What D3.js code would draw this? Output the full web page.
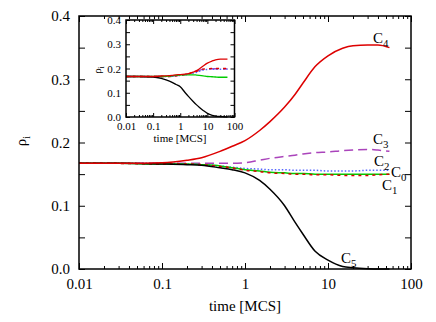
<!DOCTYPE html>
<html>
<head>
<meta charset="utf-8">
<script src="https://cdn.jsdelivr.net/npm/d3@7"></script>
<style>
  body { margin: 0; background: #fff; }
  svg, svg text { font-family: "Liberation Serif", "Times New Roman", serif; }
</style>
</head>
<body>
<div id="chart"></div>
<script>
// time samples shared by every curve (MCS)
const times = [0.01, 0.03, 0.1, 0.2, 0.3, 0.5, 0.7, 1, 1.5, 2, 3, 4, 5, 7, 10, 15, 20, 30, 40, 55];

// main panel
const c4 = [.167,.167,.168,.172,.176,.186,.194,.203,.219,.233,.256,.276,.294,.320,.337,.349,.353,.354,.354,.350];
const c3 = [.167,.167,.167,.167,.167,.167,.167,.168,.172,.175,.178,.180,.182,.184,.185,.187,.188,.189,.188,.186];
const c2 = [.167,.167,.167,.166,.165,.163,.161,.159,.158,.157,.157,.156,.156,.156,.155,.155,.155,.156,.156,.156];
const c0 = [.167,.167,.166,.166,.165,.163,.160,.157,.155,.153,.152,.151,.151,.150,.150,.150,.150,.150,.150,.150];
const c1 = [.167,.167,.166,.166,.165,.162,.160,.156,.154,.152,.151,.150,.150,.149,.149,.148,.148,.148,.149,.150];
const c5 = [.167,.167,.166,.165,.164,.160,.157,.152,.140,.126,.100,.074,.055,.028,.014,.004,.002,.0005,0,0];

// inset panel
const in4 = [.167,.167,.167,.169,.170,.172,.174,.175,.177,.179,.185,.191,.198,.210,.222,.231,.236,.239,.239,.239];
const in3 = [.167,.167,.167,.167,.167,.168,.170,.172,.175,.178,.184,.188,.192,.197,.198,.199,.199,.199,.199,.198];
const in1 = [.167,.167,.167,.167,.167,.168,.170,.172,.175,.178,.184,.189,.193,.197,.199,.200,.200,.200,.200,.200];
const in2 = [.167,.167,.167,.167,.167,.168,.169,.171,.173,.176,.180,.184,.188,.193,.196,.197,.197,.197,.197,.197];
const in0 = [.167,.167,.167,.167,.168,.170,.172,.173,.174,.174,.174,.173,.172,.170,.167,.166,.165,.164,.164,.164];
const in5 = [.167,.167,.165,.159,.153,.143,.134,.125,.101,.085,.064,.050,.040,.027,.015,.007,.004,.002,.001,0];

const xTicks = [0.01, 0.1, 1, 10, 100];
const yTicks = [0, 0.1, 0.2, 0.3, 0.4];

const W = 436, H = 322;
const svg = d3.select("#chart").append("svg").attr("width", W).attr("height", H);

const styles = {
  c4: {color: "#dd0000", dash: null},
  c3: {color: "#aa44bb", dash: "9,5"},
  c2: {color: "#5566ff", dash: "1.5,2"},
  c0: {color: "#00cc00", dash: null},
  c1: {color: "#dd0000", dash: "3,4"},
  c5: {color: "#000000", dash: null}
};

function panel(g, box, series, fs, lw) {
  const x = d3.scaleLog().domain([0.01, 100]).range([box.left, box.right]);
  const y = d3.scaleLinear().domain([0, 0.4]).range([box.bottom, box.top]);

  g.append("rect")
    .attr("x", box.left).attr("y", box.top)
    .attr("width", box.right - box.left).attr("height", box.bottom - box.top)
    .attr("fill", "#fff");

  const minor = [];
  [0.01, 0.1, 1, 10].forEach(d => { for (let k = 2; k <= 9; k++) minor.push(d * k); });
  const yMinor = d3.range(0.05, 0.4, 0.1);

  // bottom / top
  g.append("g").attr("transform", `translate(0,${box.bottom})`)
    .call(d3.axisBottom(x).tickValues(xTicks).tickFormat(d => String(d)).tickSize(-box.tick).tickPadding(box.padX));
  g.append("g").attr("transform", `translate(0,${box.bottom})`)
    .call(d3.axisBottom(x).tickValues(minor).tickFormat("").tickSize(-box.tick / 2));
  g.append("g").attr("transform", `translate(0,${box.top})`)
    .call(d3.axisTop(x).tickValues(xTicks).tickFormat("").tickSize(-box.tick));
  g.append("g").attr("transform", `translate(0,${box.top})`)
    .call(d3.axisTop(x).tickValues(minor).tickFormat("").tickSize(-box.tick / 2));
  // left / right
  g.append("g").attr("transform", `translate(${box.left},0)`)
    .call(d3.axisLeft(y).tickValues(yTicks).tickFormat(d3.format(".1f")).tickSize(-box.tick).tickPadding(box.padY));
  g.append("g").attr("transform", `translate(${box.left},0)`)
    .call(d3.axisLeft(y).tickValues(yMinor).tickFormat("").tickSize(-box.tick));
  g.append("g").attr("transform", `translate(${box.right},0)`)
    .call(d3.axisRight(y).tickValues(yTicks.concat(yMinor)).tickFormat("").tickSize(-box.tick));

  g.selectAll(".domain").remove();
  g.selectAll("g").attr("font-family", null);
  g.selectAll(".tick line").attr("stroke", "#000").attr("stroke-width", 1);
  g.selectAll(".tick text").attr("font-size", fs).attr("fill", "#000");

  const line = d3.line().x((d, i) => x(times[i])).y(d => y(d)).curve(d3.curveMonotoneX);
  series.forEach(s => {
    g.append("path").datum(s.values)
      .attr("fill", "none")
      .attr("stroke", styles[s.key].color)
      .attr("stroke-width", lw)
      .attr("stroke-dasharray", styles[s.key].dash)
      .attr("d", line);
  });

  g.append("rect")
    .attr("x", box.left).attr("y", box.top)
    .attr("width", box.right - box.left).attr("height", box.bottom - box.top)
    .attr("fill", "none").attr("stroke", "#000").attr("stroke-width", 1.5);

  return {x, y};
}

function sublabel(g, px, py, main, sub, fs) {
  const t = g.append("text").attr("x", px).attr("y", py).attr("font-size", fs).attr("fill", "#000");
  t.append("tspan").text(main);
  t.append("tspan").attr("font-size", fs * 0.72).attr("dy", fs * 0.25).text(sub);
  return t;
}

// main chart
const main = svg.append("g");
const mBox = {left: 79, right: 411, top: 16, bottom: 269, tick: 6, padX: 9, padY: 9};
panel(main, mBox, [
  {key: "c3", values: c3}, {key: "c2", values: c2}, {key: "c0", values: c0},
  {key: "c1", values: c1}, {key: "c5", values: c5}, {key: "c4", values: c4}
], 15, 1.5);

main.append("text").attr("x", 245).attr("y", 311).attr("text-anchor", "middle")
  .attr("font-size", 15).text("time [MCS]");
const yl = main.append("text").attr("transform", "translate(26,141) rotate(-90)")
  .attr("text-anchor", "middle").attr("font-size", 15);
yl.append("tspan").text("ρ");
yl.append("tspan").attr("font-size", 10).attr("dy", 4).text("i");

sublabel(main, 373, 43, "C", "4", 15);
sublabel(main, 373, 144, "C", "3", 15);
sublabel(main, 374, 166, "C", "2", 15);
sublabel(main, 391, 177, "C", "0", 15);
sublabel(main, 382, 190, "C", "1", 15);
sublabel(main, 341, 263, "C", "5", 15);

// inset
const inset = svg.append("g");
const iBox = {left: 126, right: 234.5, top: 20, bottom: 117, tick: 4, padX: 5, padY: 5};
panel(inset, iBox, [
  {key: "c3", values: in3}, {key: "c2", values: in2}, {key: "c1", values: in1},
  {key: "c0", values: in0}, {key: "c5", values: in5}, {key: "c4", values: in4}
], 11, 1.3);

inset.append("text").attr("x", 180).attr("y", 142).attr("text-anchor", "middle")
  .attr("font-size", 11).text("time [MCS]");
const iyl = inset.append("text").attr("transform", "translate(101,70) rotate(-90)")
  .attr("text-anchor", "middle").attr("font-size", 11);
iyl.append("tspan").text("ρ");
iyl.append("tspan").attr("font-size", 8).attr("dy", 3).text("i");
</script>
</body>
</html>
